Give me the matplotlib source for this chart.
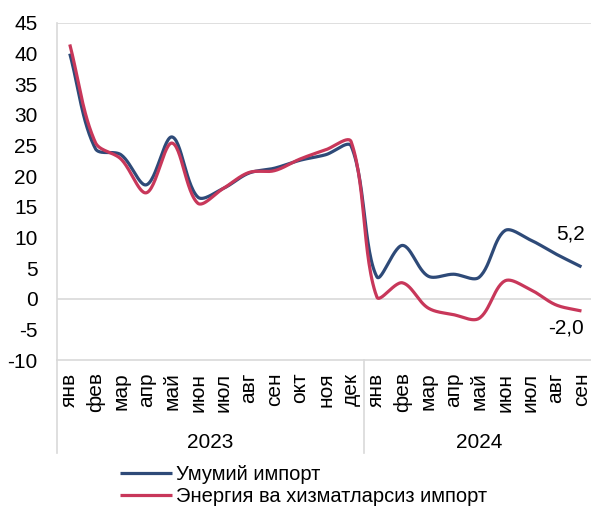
import numpy as np
import matplotlib
matplotlib.use("Agg")
import matplotlib.pyplot as plt

plt.rcParams["font.family"] = ["Liberation Sans", "DejaVu Sans"]
plt.rcParams["axes.unicode_minus"] = False

months = ["янв", "фев", "мар", "апр", "май", "июн", "июл", "авг", "сен", "окт", "ноя", "дек",
          "янв", "фев", "мар", "апр", "май", "июн", "июл", "авг", "сен"]
years = ["2023", "2024"]
year_len = [12, 9]
total = [40.0, 24.5, 23.5, 18.6, 26.4, 16.6, 18.0, 20.5, 21.3, 22.6, 23.5, 24.9,
         3.6, 8.7, 3.7, 4.0, 3.5, 11.1, 9.6, 7.3, 5.2]
energy = [41.5, 25.5, 22.8, 17.3, 25.4, 15.6, 18.0, 20.6, 20.9, 22.8, 24.3, 25.6,
          0.3, 2.6, -1.5, -2.6, -3.2, 2.9, 1.5, -1.0, -2.0]
names = ["Умумий импорт", "Энергия ва хизматларсиз импорт"]

BLUE = "#2E4A78"
RED = "#C8375A"
GRID = "#D9D9D9"
FS = 15


def smooth(y, sx=25.6, sy=6.13, n=30):
    # Excel-like smoothed line: Bezier segments, tangents scaled by chord length
    y = np.asarray(y, dtype=float)
    pts = np.column_stack([np.arange(len(y)) * sx, y * sy])
    m = len(pts)
    c_out = pts.copy()
    c_in = pts.copy()
    for i in range(m):
        a = pts[max(i - 1, 0)]
        b = pts[min(i + 1, m - 1)]
        d = b - a
        l1 = np.linalg.norm(pts[i] - a)
        l2 = np.linalg.norm(b - pts[i])
        tot = l1 + l2
        if tot == 0:
            continue
        c_in[i] = pts[i] - d * l1 / tot / 3
        c_out[i] = pts[i] + d * l2 / tot / 3
    t = np.linspace(0, 1, n)[:, None]
    out = []
    for i in range(m - 1):
        p1, c1, c2, p2 = pts[i], c_out[i], c_in[i + 1], pts[i + 1]
        seg = (1 - t) ** 3 * p1 + 3 * (1 - t) ** 2 * t * c1 + 3 * (1 - t) * t ** 2 * c2 + t ** 3 * p2
        out.append(seg)
    arr = np.vstack(out)
    return arr[:, 0] / sx, arr[:, 1] / sy


fig = plt.figure(figsize=(5.91, 5.09), dpi=100)
W, H = 591, 509
ax = fig.add_axes([57 / W, (H - 360) / H, (364 - 57) / 12 * 21 / W, (360 - 23) / H])

for vals, color, name in [(total, BLUE, names[0]), (energy, RED, names[1])]:
    sx, sy = smooth(vals)
    ax.plot(sx, sy, color=color, lw=2.3, label=name, solid_capstyle="butt")

ax.set_xlim(-0.5, len(months) - 0.5)
ax.set_ylim(-10, 45)
ax.set_yticks(range(-10, 50, 5))
ax.axhline(0, color=GRID, lw=1.2, zorder=0)
ax.axhline(45, color=GRID, lw=1.2, zorder=0)

for s in ["top", "right"]:
    ax.spines[s].set_visible(False)
ax.spines["left"].set_color(GRID)
ax.spines["bottom"].set_color(GRID)
ax.spines["left"].set_linewidth(1.2)
ax.spines["bottom"].set_linewidth(1.2)

ax.set_xticks(range(len(months)))
ax.set_xticklabels(months, rotation=90, fontsize=FS)
ax.tick_params(axis="x", length=0, pad=9)
ax.tick_params(axis="y", length=0, pad=14, labelsize=FS)

# category group separators and year labels
sep_y = -(453 - 360) / (360 - 23)
year_y = -(442 - 360) / (360 - 23)
tr = ax.get_xaxis_transform()
start = 0
for xs in [-0.5, 11.5]:
    ax.plot([xs, xs], [0, sep_y], transform=tr, color=GRID, lw=1.2, clip_on=False)
for yr, n in zip(years, year_len):
    ax.text(start + (n - 1) / 2, year_y, yr, transform=tr, ha="center", va="center", fontsize=FS)
    start += n

ax.annotate(f"{total[-1]:.1f}".replace(".", ","), (len(total) - 1, total[-1]), xytext=(-8, 24),
            textcoords="offset points", ha="center", va="center", fontsize=FS)
ax.annotate(f"{energy[-1]:.1f}".replace(".", ","), (len(energy) - 1, energy[-1]), xytext=(-11, -12),
            textcoords="offset points", ha="center", va="center", fontsize=FS)

fig.legend(loc="upper left", bbox_to_anchor=(112 / W, 1 - 457 / H), frameon=False, fontsize=14.5,
           handlelength=2.6, handletextpad=0.2, labelspacing=0.15, borderaxespad=0)

fig.savefig("out.png", dpi=100)
